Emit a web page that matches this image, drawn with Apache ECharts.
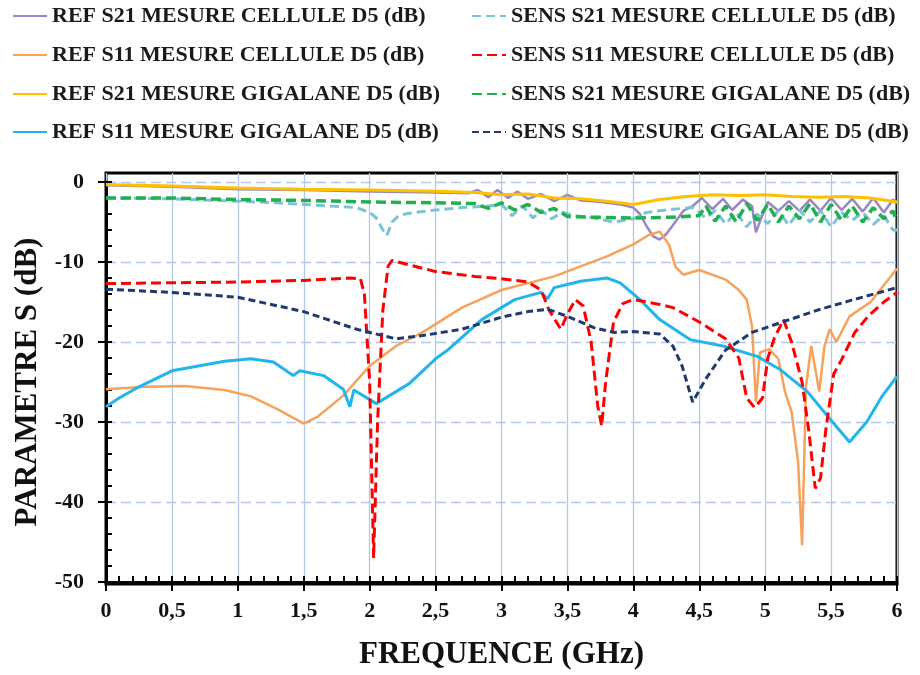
<!DOCTYPE html>
<html>
<head>
<meta charset="utf-8">
<script src="https://cdn.jsdelivr.net/npm/echarts@6/dist/echarts.min.js"></script>
<style>
html,body{margin:0;padding:0;background:#fff;}
#chart{width:920px;height:675px;}
</style>
</head>
<body>
<div id="chart"></div>
<script>
// noms des courbes (ordre de la legende)
var SERIES_NAMES = [
	'REF S21 MESURE CELLULE D5 (dB)',
	'REF S11 MESURE CELLULE D5 (dB)',
	'REF S21 MESURE GIGALANE D5 (dB)',
	'REF S11 MESURE GIGALANE D5 (dB)',
	'SENS S21 MESURE CELLULE D5 (dB)',
	'SENS S11 MESURE CELLULE D5 (dB)',
	'SENS S21 MESURE GIGALANE D5 (dB)',
	'SENS S11 MESURE GIGALANE D5 (dB)'
];

var FREQ_TICKS = [0, 0.5, 1, 1.5, 2, 2.5, 3, 3.5, 4, 4.5, 5, 5.5, 6];
var DB_TICKS = [-50, -40, -30, -20, -10, 0];

// REF S21 cellule
var refS21CelFreq = [0, 0.5, 1, 1.5, 2, 2.5, 2.75, 2.82, 2.9, 2.97, 3.05, 3.12, 3.2, 3.3, 3.4, 3.5, 3.6, 3.7, 3.8, 3.9, 4.0, 4.05, 4.1, 4.15, 4.2, 4.25, 4.3, 4.38, 4.45, 4.52, 4.6, 4.68, 4.75, 4.83, 4.9, 4.93, 4.97, 5.02, 5.1, 5.18, 5.26, 5.34, 5.42, 5.5, 5.58, 5.66, 5.74, 5.82, 5.9, 5.97, 6.0];
var refS21CelDb = [-0.4, -0.6, -0.9, -1.0, -1.2, -1.3, -1.4, -1.0, -1.9, -1.0, -2.0, -1.2, -2.1, -1.5, -2.4, -1.6, -2.3, -2.4, -2.6, -2.8, -3.2, -4.0, -5.5, -6.8, -7.2, -6.5, -5.4, -3.6, -3.0, -2.0, -3.4, -2.1, -3.5, -2.2, -3.0, -6.3, -4.5, -2.5, -3.6, -2.4, -3.6, -2.2, -3.6, -2.0, -3.5, -2.1, -3.7, -2.0, -3.8, -2.2, -2.6];

// REF S11 cellule
var refS11CelFreq = [0, 0.3, 0.6, 0.9, 1.1, 1.3, 1.5, 1.6, 1.8, 2.0, 2.2, 2.4, 2.7, 3.0, 3.4, 3.8, 4.0, 4.12, 4.2, 4.27, 4.32, 4.38, 4.5, 4.7, 4.8, 4.86, 4.9, 4.93, 4.96, 5.03, 5.1, 5.15, 5.2, 5.25, 5.28, 5.31, 5.35, 5.41, 5.45, 5.49, 5.54, 5.64, 5.8, 6.0];
var refS11CelDb = [-25.9, -25.6, -25.5, -26.0, -26.8, -28.4, -30.2, -29.4, -26.7, -23.0, -20.5, -18.8, -15.7, -13.5, -11.8, -9.3, -7.8, -6.6, -6.2, -7.8, -10.6, -11.6, -11.0, -12.2, -13.5, -14.7, -18.0, -27.5, -21.3, -20.9, -22.1, -26.2, -28.7, -35.0, -45.4, -25.5, -20.5, -26.2, -20.5, -18.4, -20.0, -16.8, -15.0, -10.8];

// REF S21 gigalane
var refS21GigFreq = [0, 0.5, 1, 1.5, 2, 2.5, 2.8, 3.0, 3.2, 3.4, 3.6, 3.8, 4.0, 4.2, 4.4, 4.6, 4.8, 5.0, 5.2, 5.4, 5.6, 5.8, 6.0];
var refS21GigDb = [-0.3, -0.5, -0.75, -0.9, -1.0, -1.15, -1.3, -1.6, -1.5, -2.0, -2.1, -2.4, -2.8, -2.2, -1.8, -1.6, -1.7, -1.6, -1.8, -1.9, -1.8, -2.0, -2.5];

// REF S11 gigalane
var refS11GigFreq = [0, 0.1, 0.25, 0.5, 0.9, 1.1, 1.27, 1.42, 1.47, 1.65, 1.8, 1.85, 1.88, 2.05, 2.15, 2.3, 2.5, 2.6, 2.85, 3.1, 3.3, 3.35, 3.4, 3.6, 3.8, 3.9, 4.05, 4.2, 4.43, 4.68, 4.94, 5.11, 5.32, 5.49, 5.64, 5.77, 5.89, 6.0];
var refS11GigDb = [-28.1, -27.0, -25.6, -23.6, -22.4, -22.1, -22.5, -24.2, -23.6, -24.2, -25.9, -28.1, -26.0, -27.7, -26.7, -25.2, -22.1, -20.9, -17.2, -14.7, -13.8, -14.6, -13.2, -12.4, -12.0, -12.6, -14.7, -17.2, -19.7, -20.5, -21.8, -23.4, -26.2, -29.6, -32.5, -30.0, -26.7, -24.3];

// SENS S21 cellule
var sensS21CelFreq = [0, 0.5, 1.0, 1.3, 1.5, 1.7, 1.9, 2.0, 2.05, 2.1, 2.13, 2.17, 2.22, 2.3, 2.5, 2.7, 2.9, 3.0, 3.08, 3.16, 3.24, 3.3, 3.38, 3.46, 3.55, 3.7, 3.85, 4.0, 4.1, 4.3, 4.45, 4.55, 4.62, 4.7, 4.78, 4.86, 4.94, 5.02, 5.1, 5.18, 5.26, 5.34, 5.42, 5.5, 5.58, 5.66, 5.74, 5.82, 5.9, 5.97, 6.0];
var sensS21CelDb = [-2.0, -2.1, -2.4, -2.6, -2.8, -3.0, -3.2, -3.8, -4.5, -6.0, -6.7, -5.0, -4.2, -3.9, -3.5, -3.2, -3.0, -2.8, -4.2, -3.0, -4.5, -3.5, -4.6, -3.8, -4.2, -4.5, -5.0, -4.6, -3.8, -3.4, -3.2, -4.5, -3.6, -5.2, -3.8, -5.6, -4.0, -5.2, -3.6, -5.4, -3.5, -5.0, -3.6, -5.6, -3.8, -4.8, -3.8, -5.3, -4.2, -6.0, -6.0];

// SENS S11 cellule
var sensS11CelFreq = [0, 0.5, 1.0, 1.5, 1.85, 1.93, 1.96, 2.0, 2.03, 2.06, 2.1, 2.14, 2.17, 2.5, 2.8, 3.0, 3.2, 3.3, 3.36, 3.45, 3.5, 3.56, 3.62, 3.68, 3.73, 3.76, 3.79, 3.85, 3.92, 4.0, 4.2, 4.3, 4.5, 4.7, 4.8, 4.86, 4.92, 4.98, 5.02, 5.07, 5.14, 5.2, 5.28, 5.33, 5.38, 5.42, 5.46, 5.52, 5.58, 5.68, 5.78, 5.9, 6.0];
var sensS11CelDb = [-12.7, -12.6, -12.5, -12.3, -12.0, -12.1, -14.0, -25.0, -47.0, -30.0, -16.0, -10.5, -9.8, -11.2, -11.8, -12.1, -12.5, -13.5, -16.0, -18.4, -16.5, -14.7, -15.5, -20.0, -28.0, -30.5, -25.0, -17.5, -15.2, -14.7, -15.3, -15.7, -17.5, -19.6, -22.0, -27.0, -28.2, -27.0, -22.0, -19.5, -17.2, -20.0, -25.0, -31.0, -38.3, -37.0, -31.0, -24.0, -22.2, -18.8, -16.8, -15.0, -13.8];

// SENS S21 gigalane
var sensS21GigFreq = [0, 0.5, 1, 1.5, 2, 2.5, 2.8, 2.9, 3.0, 3.1, 3.2, 3.3, 3.4, 3.5, 3.7, 4.0, 4.3, 4.5, 4.55, 4.62, 4.7, 4.78, 4.86, 4.94, 5.02, 5.1, 5.18, 5.26, 5.34, 5.42, 5.5, 5.58, 5.66, 5.74, 5.82, 5.9, 5.97, 6.0];
var sensS21GigDb = [-2.0, -2.0, -2.2, -2.3, -2.5, -2.6, -2.7, -3.3, -2.6, -3.5, -2.8, -3.8, -3.3, -4.3, -4.4, -4.5, -4.4, -4.2, -3.0, -4.9, -3.0, -5.0, -2.7, -4.8, -2.8, -5.0, -3.0, -4.6, -2.7, -5.0, -2.8, -4.8, -3.0, -5.0, -3.2, -4.6, -3.6, -5.0];

// SENS S11 gigalane
var sensS11GigFreq = [0, 0.5, 1.0, 1.5, 1.9, 2.2, 2.4, 2.7, 3.0, 3.2, 3.35, 3.5, 3.7, 3.85, 4.0, 4.2, 4.3, 4.37, 4.45, 4.55, 4.7, 4.9, 5.15, 5.4, 5.65, 6.0];
var sensS11GigDb = [-13.4, -13.8, -14.4, -16.2, -18.4, -19.6, -19.2, -18.4, -16.9, -16.2, -15.9, -16.8, -18.2, -18.8, -18.7, -19.0, -20.5, -23.0, -27.5, -24.6, -21.0, -18.8, -17.4, -16.0, -14.8, -13.2];

var FONT = 'Liberation Serif';

function pairs(f, v){
	var out = [];
	for(var i=0; i<f.length; i++){
		out.push([f[i], v[i]]);
	}
	return out;
}

var CHART = {
	styles: [
		{color: '#9a85c6', width: 2.5, type: 'solid'},
		{color: '#f5a35c', width: 2.5, type: 'solid'},
		{color: '#ffc000', width: 3, type: 'solid'},
		{color: '#22b5ec', width: 3, type: 'solid'},
		{color: '#7cc2d8', width: 3, type: [9, 5]},
		{color: '#ff0000', width: 3, type: [10, 5]},
		{color: '#1fb050', width: 3.5, type: [10, 5]},
		{color: '#1f3a6e', width: 3, type: [7, 4]}
	],
	data: [
		pairs(refS21CelFreq, refS21CelDb),
		pairs(refS11CelFreq, refS11CelDb),
		pairs(refS21GigFreq, refS21GigDb),
		pairs(refS11GigFreq, refS11GigDb),
		pairs(sensS21CelFreq, sensS21CelDb),
		pairs(sensS11CelFreq, sensS11CelDb),
		pairs(sensS21GigFreq, sensS21GigDb),
		pairs(sensS11GigFreq, sensS11GigDb)
	],

	ini: function(){
		var chart = echarts.init(document.getElementById('chart'), null, {renderer: 'canvas'});
		chart.setOption(this.getOption());
	},
	getLegends: function(){
		var legends = [];
		var rowTop = [5, 44, 83, 121];
		for(var i=0; i<SERIES_NAMES.length; i++){
			legends.push({
				left: i < 4 ? 12 : 471,
				top: rowTop[i % 4],
				orient: 'horizontal',
				padding: 0,
				itemWidth: 34,
				itemHeight: 14,
				selectedMode: false,
				//pas de symbole dans la legende, juste le trait
				itemStyle: {color: 'rgba(0,0,0,0)', borderColor: 'rgba(0,0,0,0)', borderWidth: 0},
				data: [SERIES_NAMES[i]],
				textStyle: {fontFamily: FONT, fontSize: 22, fontWeight: 'bold', color: '#1a1a1a'}
			});
		}
		return legends;
	},
	getSeries: function(){
		var series = [];
		for(var i=0; i<SERIES_NAMES.length; i++){
			var st = this.styles[i];
			series.push({
				name: SERIES_NAMES[i],
				type: 'line',
				xAxisIndex: 0,
				yAxisIndex: 0,
				symbol: 'none',
				showSymbol: false,
				animation: false,
				data: this.data[i],
				itemStyle: {color: st.color},
				lineStyle: {color: st.color, width: st.width, type: st.type},
				z: 3 + i
			});
		}
		return series;
	},
	getOption: function(){
		var labelStyle = {fontFamily: FONT, fontSize: 22, fontWeight: 'bold', color: '#111'};
		return {
			backgroundColor: '#fff',
			animation: false,
			legend: this.getLegends(),
			grid: [
				{left: 106, right: 23, top: 182, bottom: 91, show: false},
				{left: 106, right: 23, top: 173, bottom: 91, show: true, borderColor: '#000', borderWidth: 3, backgroundColor: 'transparent'}
			],
			xAxis: [
				{
					gridIndex: 0, type: 'value', position: 'bottom',
					min: FREQ_TICKS[0], max: FREQ_TICKS[FREQ_TICKS.length-1], interval: 0.5,
					axisLine: {onZero: false, lineStyle: {color: '#000', width: 3}},
					axisTick: {inside: true, length: 6, lineStyle: {color: '#000', width: 2}},
					minorTick: {show: true, splitNumber: 5, length: 6, lineStyle: {color: '#000', width: 2}},
					axisLabel: Object.assign({margin: 18, formatter: function(v){ return String(v).replace('.', ','); }}, labelStyle),
					splitLine: {show: false},
					name: 'FREQUENCE (GHz)', nameLocation: 'middle', nameGap: 57,
					nameTextStyle: {fontFamily: FONT, fontSize: 31, fontWeight: 'bold', color: '#111'}
				},
				{
					gridIndex: 1, type: 'value', position: 'bottom',
					min: 0, max: 6, interval: 0.5,
					axisLine: {show: false}, axisTick: {show: false}, axisLabel: {show: false},
					splitLine: {show: true, lineStyle: {color: '#b4c7e7', width: 1.3}}
				},
				{
					gridIndex: 0, type: 'value', position: 'bottom',
					min: 0, max: 6, interval: 0.5,
					axisLine: {show: false, onZero: false},
					axisTick: {inside: false, length: 9, lineStyle: {color: '#000', width: 2}},
					axisLabel: {show: false},
					splitLine: {show: false}
				}
			],
			yAxis: [
				{
					gridIndex: 0, type: 'value', position: 'left',
					min: DB_TICKS[0], max: DB_TICKS[DB_TICKS.length-1], interval: 10,
					axisLine: {onZero: false, lineStyle: {color: '#000', width: 3}},
					axisTick: {inside: true, length: 6, lineStyle: {color: '#000', width: 2}},
					minorTick: {show: true, splitNumber: 5, length: 6, lineStyle: {color: '#000', width: 2}},
					axisLabel: Object.assign({margin: 22}, labelStyle),
					splitLine: {show: true, lineStyle: {color: '#b4c7e7', width: 1.3, type: [10, 5]}},
					name: 'PARAMETRE S (dB)', nameLocation: 'middle', nameGap: 60, nameRotate: 90,
					nameTextStyle: {fontFamily: FONT, fontSize: 31, fontWeight: 'bold', color: '#111'}
				},
				{
					gridIndex: 1, type: 'value', min: 0, max: 1, show: false
				},
				{
					gridIndex: 0, type: 'value', position: 'left',
					min: -50, max: 0, interval: 10,
					axisLine: {show: false, onZero: false},
					axisTick: {inside: false, length: 8, lineStyle: {color: '#000', width: 2}},
					axisLabel: {show: false},
					splitLine: {show: false}
				}
			],
			series: this.getSeries()
		};
	}
};

CHART.ini();
</script>
</body>
</html>
